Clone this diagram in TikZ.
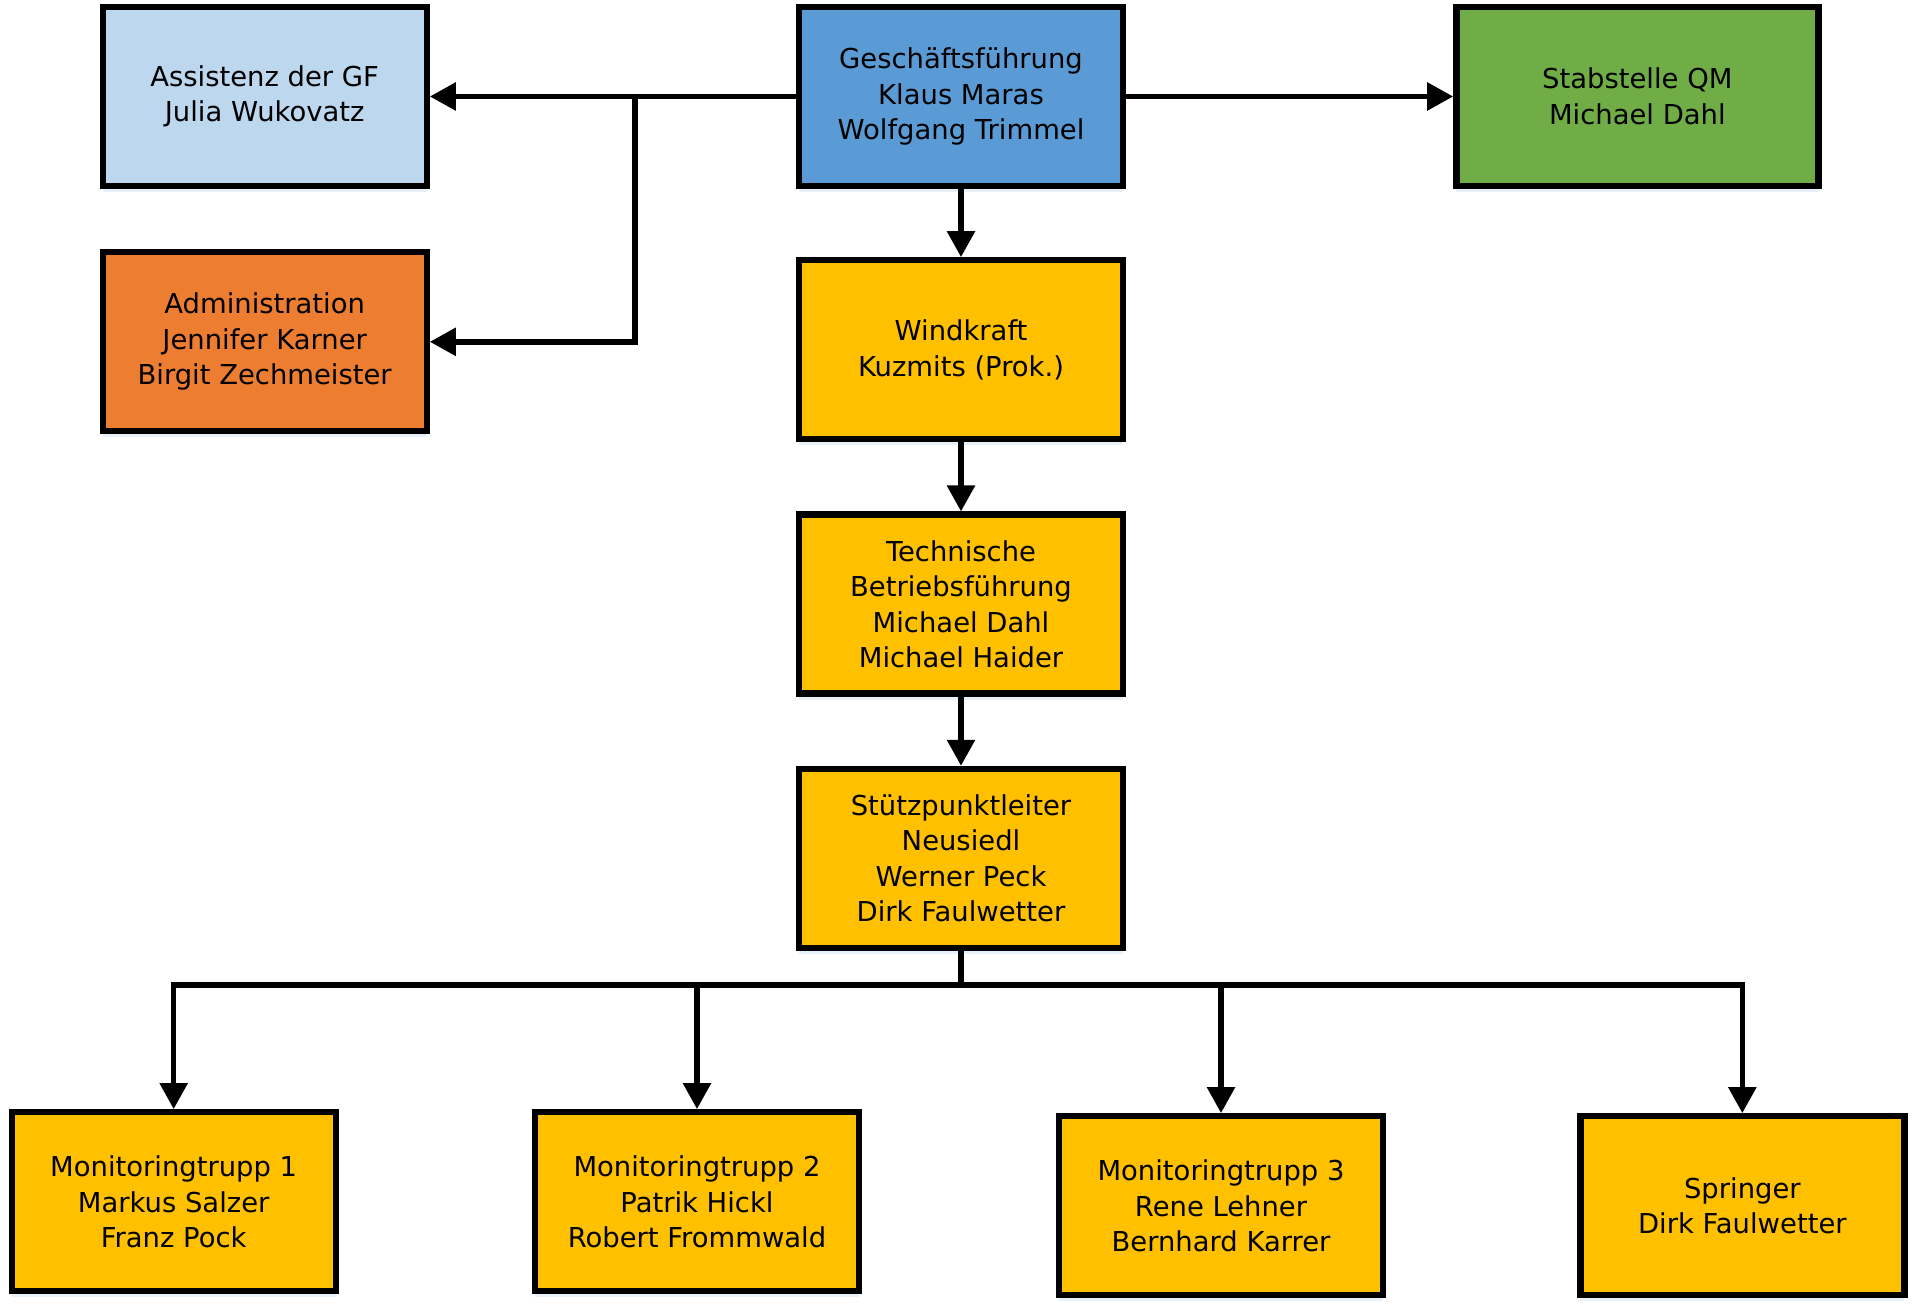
\documentclass[tikz,border=0pt]{standalone}
\usepackage{fontspec}
\setmainfont{DejaVu Sans}
\usetikzlibrary{positioning, arrows.meta, shadows}

\definecolor{gfblue}{HTML}{5B9BD5}
\definecolor{asblue}{HTML}{BDD7EE}
\definecolor{qmgreen}{HTML}{70AD47}
\definecolor{admorange}{HTML}{ED7D31}
\definecolor{unitgold}{HTML}{FFC000}

\begin{document}
\begin{tikzpicture}[>=Latex]

\tikzset{
  box/.style={
    rectangle, draw, line width=1.8pt, align=center,
    minimum width=3.24cm, minimum height=1.79cm,
    inner sep=2pt, fill=unitgold,
    font=\fontsize{7.8}{10.1}\selectfont,
    drop shadow={shadow xshift=0pt, shadow yshift=-0.06cm,
                 fill=asblue, opacity=0.35}
  },
  arrow/.style={-{Triangle[length=0.26cm, width=0.27cm]}, line width=1.6pt},
  link/.style={line width=1.6pt}
}

\useasboundingbox (0,0) rectangle (19.2,-13.09);

% ==========================
% Top row: management and staff units
% ==========================
\node[box, fill=gfblue] (gf) at (9.61,-0.965)
  {Geschäftsführung\\Klaus Maras\\Wolfgang Trimmel};
\node[box, fill=asblue, left=3.66cm of gf] (assist)
  {Assistenz der GF\\Julia Wukovatz};
\node[box, fill=qmgreen, minimum width=3.62cm, right=3.27cm of gf] (qm)
  {Stabstelle QM\\Michael Dahl};
\node[box, fill=admorange, below=0.6cm of assist] (admin)
  {Administration\\Jennifer Karner\\Birgit Zechmeister};

\draw[arrow] (gf.west) -- (assist.east);
\draw[arrow] (gf.east) -- (qm.west);

% branch to administration
\coordinate[left=1.61cm of gf.west] (split);
\draw[arrow] (split) |- (admin.east);

% ==========================
% Middle column: chain of command
% ==========================
\node[box, below=0.68cm of gf] (wind) {Windkraft\\Kuzmits (Prok.)};
\node[box, below=0.69cm of wind] (tech)
  {Technische\\Betriebsführung\\Michael Dahl\\Michael Haider};
\node[box, below=0.69cm of tech] (stp)
  {Stützpunktleiter\\Neusiedl\\Werner Peck\\Dirk Faulwetter};

\draw[arrow] (gf) -- (wind);
\draw[arrow] (wind) -- (tech);
\draw[arrow] (tech) -- (stp);

% ==========================
% Bottom row: teams
% ==========================
\node[box, below=1.58cm of stp, xshift=-2.64cm] (mt2)
  {Monitoringtrupp 2\\Patrik Hickl\\Robert Frommwald};
\node[box, left=1.93cm of mt2] (mt1)
  {Monitoringtrupp 1\\Markus Salzer\\Franz Pock};
\node[box, below=1.62cm of stp, xshift=2.6cm] (mt3)
  {Monitoringtrupp 3\\Rene Lehner\\Bernhard Karrer};
\node[box, right=1.91cm of mt3] (spring)
  {Springer\\Dirk Faulwetter};

\coordinate[below=0.34cm of stp.south] (bus);
\draw[link] (stp.south) -- (bus);
\foreach \team in {mt1, mt2, mt3, spring}
  \draw[arrow] (bus) -| (\team.north);

\end{tikzpicture}
\end{document}
